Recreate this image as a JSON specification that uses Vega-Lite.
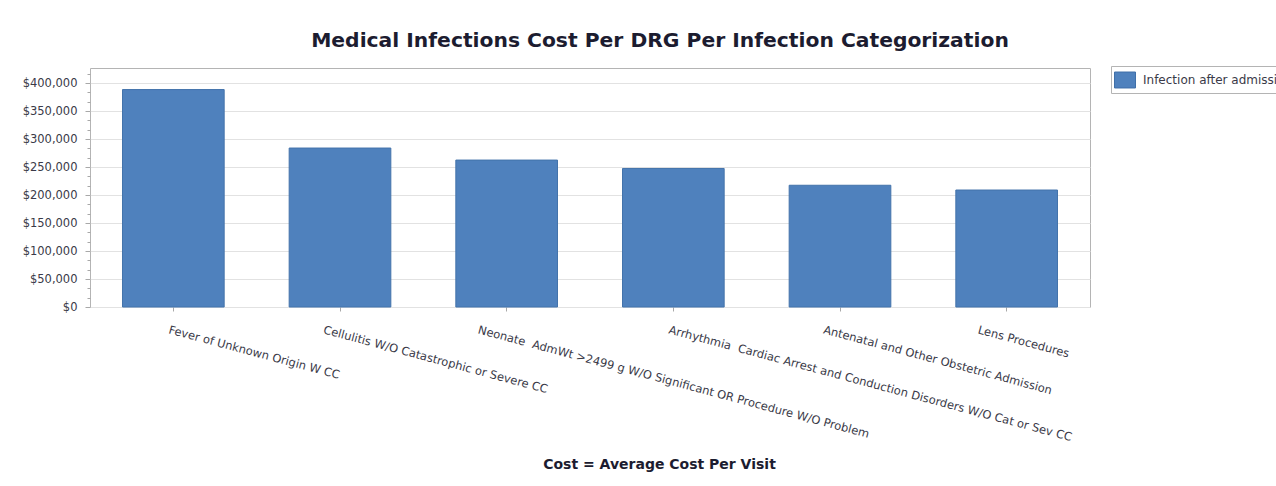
{
  "$schema": "https://vega.github.io/schema/vega-lite/v6.json",
  "width": 1000,
  "height": 239,
  "autosize": {"type": "none"},
  "padding": {"left": 90, "top": 68, "right": 186, "bottom": 179},
  "background": "white",
  "title": {
    "text": "Medical Infections Cost Per DRG Per Infection Categorization",
    "anchor": "middle",
    "dx": 70,
    "offset": 14,
    "font": "DejaVu Sans",
    "fontSize": 20.3,
    "fontWeight": "bold",
    "color": "#1c1c30"
  },
  "data": {
    "values": [
      {"drg": "Fever of Unknown Origin W CC", "cost": 388500},
      {"drg": "Cellulitis W/O Catastrophic or Severe CC", "cost": 284000},
      {"drg": "Neonate\u00a0 AdmWt >2499 g W/O Significant OR Procedure W/O Problem", "cost": 262500},
      {"drg": "Arrhythmia\u00a0 Cardiac Arrest and Conduction Disorders W/O Cat or Sev CC", "cost": 247500},
      {"drg": "Antenatal and Other Obstetric Admission", "cost": 217500},
      {"drg": "Lens Procedures", "cost": 209000}
    ]
  },
  "encoding": {
    "x": {
      "field": "drg",
      "type": "nominal",
      "sort": null,
      "scale": {"paddingInner": 0.39, "paddingOuter": 0.195},
      "axis": {
        "title": "Cost = Average Cost Per Visit",
        "titleFont": "DejaVu Sans",
        "titleFontSize": 14,
        "titleFontWeight": "bold",
        "titleColor": "#1c1c30",
        "titleX": 569,
        "titleY": 161,
        "titleAlign": "center",
        "titleBaseline": "alphabetic",
        "labelAngle": 15,
        "labelAlign": "left",
        "labelBaseline": "top",
        "labelFont": "DejaVu Sans",
        "labelFontSize": 11.5,
        "labelColor": "#3a3a48",
        "labelPadding": 13,
        "labelOverlap": false,
        "labelLimit": 0,
        "labelOffset": {
          "condition": [
            {"test": "indexof(datum.value, 'Cellulitis') == 0 || indexof(datum.value, 'Antenatal') == 0", "value": -15},
            {"test": "indexof(datum.value, 'Neonate') == 0 || indexof(datum.value, 'Lens') == 0", "value": -27}
          ],
          "value": -3
        },
        "tickColor": "#a8a8a8",
        "tickSize": 4,
        "domain": false,
        "grid": false
      }
    }
  },
  "layer": [
    {
      "mark": {"type": "bar", "stroke": "#4373ab", "strokeWidth": 1},
      "encoding": {
        "y": {
          "field": "cost",
          "type": "quantitative",
          "scale": {"domain": [0, 427000], "nice": false},
          "axis": {
            "title": null,
            "orient": "left",
            "values": [0, 50000, 100000, 150000, 200000, 250000, 300000, 350000, 400000],
            "format": "$,.0f",
            "labelFont": "DejaVu Sans",
            "labelFontSize": 11.5,
            "labelColor": "#3a3a48",
            "labelPadding": 8,
            "tickColor": "#a8a8a8",
            "tickSize": 5,
            "domain": false,
            "gridColor": "#e2e2e2"
          }
        },
        "color": {
          "datum": "Infection after admission",
          "type": "nominal",
          "scale": {"range": ["#4f81bd"]},
          "legend": {
            "title": null,
            "orient": "none",
            "legendX": 1021,
            "legendY": -2,
            "symbolType": "M-1,-0.76H1V0.76H-1Z",
            "symbolSize": 441,
            "symbolStrokeColor": "#3f6fa8",
            "symbolStrokeWidth": 1,
            "labelFont": "DejaVu Sans",
            "labelFontSize": 12,
            "labelColor": "#3a3a48",
            "labelOffset": 7,
            "labelLimit": 0,
            "padding": 3,
            "strokeColor": "#b4b4b4",
            "fillColor": "white"
          }
        }
      }
    },
    {
      "mark": {"type": "bar", "fillOpacity": 0, "strokeOpacity": 0},
      "encoding": {
        "y": {
          "field": "cost",
          "type": "quantitative",
          "axis": {
            "title": null,
            "orient": "left",
            "values": [16666.67, 33333.33, 66666.67, 83333.33, 116666.67, 133333.33, 166666.67, 183333.33, 216666.67, 233333.33, 266666.67, 283333.33, 316666.67, 333333.33, 366666.67, 383333.33, 416666.67],
            "labels": false,
            "grid": false,
            "domain": false,
            "tickColor": "#a8a8a8",
            "tickSize": 3
          }
        }
      }
    }
  ],
  "resolve": {"axis": {"y": "independent"}},
  "config": {"view": {"stroke": "#b4b4b4"}}
}
